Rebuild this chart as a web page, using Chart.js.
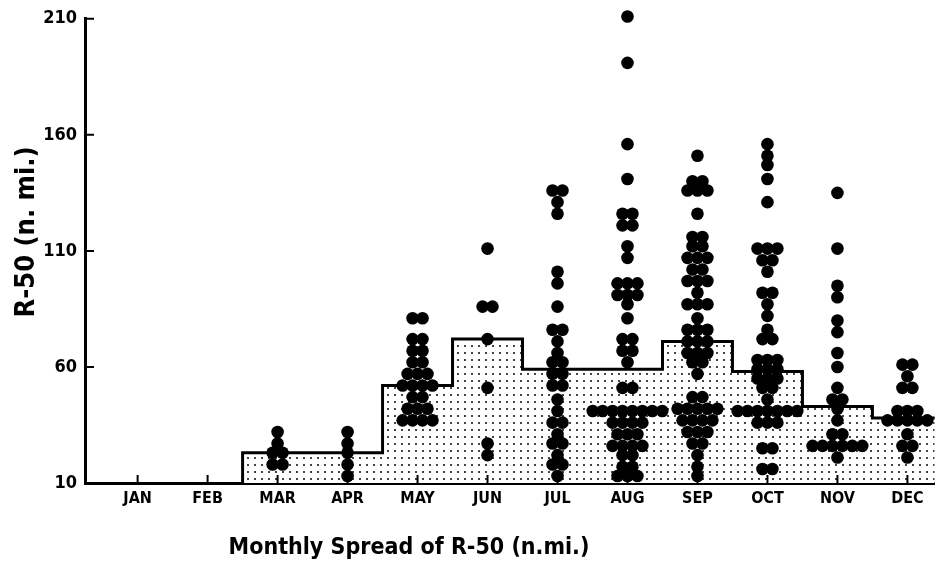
<!DOCTYPE html>
<html>
<head>
  <title>Monthly Spread of R-50</title>
  <script src="https://cdn.jsdelivr.net/npm/chart.js"></script>
  <style>
    body { margin: 0; background: #fff; }
  </style>
</head>
<body>
  <canvas id="chart" width="941" height="565"></canvas>

  <script>
    var months = ['JAN', 'FEB', 'MAR', 'APR', 'MAY', 'JUN', 'JUL', 'AUG', 'SEP', 'OCT', 'NOV', 'DEC'];
    var yTicks = [10, 60, 110, 160, 210];

    // monthly mean R-50 (stepped, shaded outline); null = no cases
    var monthlyMean = [null, null, 23, 23, 52, 72, 59, 59, 71, 58, 43, 38];

    // single cases per month as [R-50 value, number of dots at that value]
    var janR50 = [];
    var febR50 = [];
    var marR50 = [[32, 1], [27, 1], [23, 2], [18, 2]];
    var aprR50 = [[32, 1], [27, 1], [23, 1], [18, 1], [13, 1]];
    var mayR50 = [[81, 2], [72, 2], [67, 2], [62, 2], [57, 3], [52, 4], [47, 2], [42, 3], [37, 4]];
    var junR50 = [[111, 1], [86, 2], [72, 1], [51, 1], [27, 1], [22, 1]];
    var julR50 = [[136, 2], [131, 1], [126, 1], [101, 1], [96, 1], [86, 1], [76, 2], [71, 1], [66, 1],
                  [62, 2], [57, 2], [52, 2], [46, 1], [41, 1], [36, 2], [31, 1], [27, 2], [22, 1], [18, 2], [13, 1]];
    var augR50 = [[211, 1], [191, 1], [156, 1], [141, 1], [126, 2], [121, 2], [112, 1], [107, 1], [96, 3],
                  [91, 3], [87, 1], [81, 1], [72, 2], [67, 2], [62, 1], [51, 2], [41, 8], [36, 4], [31, 3],
                  [26, 4], [22, 2], [17, 2], [13, 3]];
    var sepR50 = [[151, 1], [140, 2], [136, 3], [126, 1], [116, 2], [112, 2], [107, 3], [102, 2], [97, 3],
                  [92, 1], [87, 3], [81, 1], [76, 3], [71, 3], [66, 3], [62, 2], [57, 1], [47, 2], [42, 5],
                  [37, 4], [32, 3], [27, 2], [22, 1], [17, 1], [13, 1]];
    var octR50 = [[156, 1], [151, 1], [147, 1], [141, 1], [131, 1], [111, 3], [106, 2], [101, 1], [92, 2],
                  [87, 1], [82, 1], [76, 1], [72, 2], [63, 3], [59, 3], [55, 3], [51, 2], [46, 1], [41, 7],
                  [36, 3], [25, 2], [16, 2]];
    var novR50 = [[135, 1], [111, 1], [95, 1], [90, 1], [80, 1], [75, 1], [66, 1], [60, 1], [51, 1], [46, 2],
                  [42, 1], [37, 1], [31, 2], [26, 6], [21, 1]];
    var decR50 = [[61, 2], [56, 1], [51, 2], [41, 3], [37, 5], [31, 1], [26, 2], [21, 1]];

    var perMonth = [janR50, febR50, marR50, aprR50, mayR50, junR50, julR50, augR50, sepR50, octR50, novR50, decR50];

    // spread equal values side by side around the month centre
    var dotGap = 0.142;
    var dots = [];
    perMonth.forEach(function (rows, i) {
      rows.forEach(function (row) {
        for (var k = 0; k < row[1]; k++) {
          dots.push({ x: i + 1 + (k - (row[1] - 1) / 2) * dotGap, y: row[0] });
        }
      });
    });

    // step outline: each mean spans its whole month
    var steps = [];
    monthlyMean.forEach(function (m, i) {
      if (m === null) return;
      if (steps.length === 0) steps.push({ x: i + 0.5, y: yTicks[0] });
      steps.push({ x: i + 0.5, y: m }, { x: i + 1.5, y: m });
    });

    // stipple fill
    var tile = document.createElement('canvas');
    tile.width = 7;
    tile.height = 7;
    var tctx = tile.getContext('2d');
    tctx.fillStyle = '#fff';
    tctx.fillRect(0, 0, 7, 7);
    tctx.fillStyle = '#444';
    tctx.fillRect(2, 2, 2, 2);

    var ctx = document.getElementById('chart').getContext('2d');
    var stipple = ctx.createPattern(tile, 'repeat');

    var decorations = {
      id: 'decorations',
      afterDraw: function (chart) {
        var c = chart.ctx;
        var xs = chart.scales.x;
        var ys = chart.scales.y;
        c.save();
        c.strokeStyle = '#000';
        c.lineWidth = 2;
        c.beginPath();
        yTicks.forEach(function (v) {
          var py = ys.getPixelForValue(v);
          c.moveTo(xs.left, py);
          c.lineTo(xs.left + 9, py);
        });
        months.forEach(function (m, i) {
          var px = xs.getPixelForValue(i + 1);
          c.moveTo(px, ys.bottom);
          c.lineTo(px, ys.bottom - 8);
        });
        c.stroke();

        c.fillStyle = '#000';
        c.textAlign = 'center';
        c.textBaseline = 'middle';
        c.font = 'bold 23px "DejaVu Sans Condensed", "DejaVu Sans"';
        c.fillText('Monthly Spread of R-50 (n.mi.)', 409, 548);

        c.translate(27, 232);
        c.rotate(-Math.PI / 2);
        c.font = 'bold 27px "DejaVu Sans Condensed", "DejaVu Sans"';
        c.fillText('R-50 (n. mi.)', 0, 0);
        c.restore();
      }
    };

    var chart = new Chart(ctx, {
      type: 'scatter',
      data: {
        datasets: [
          {
            label: 'R-50',
            data: dots,
            backgroundColor: '#000',
            borderWidth: 0,
            pointRadius: 6.3,
            clip: false,
            order: 1
          },
          {
            type: 'line',
            label: 'Monthly mean',
            data: steps,
            borderColor: '#000',
            borderWidth: 3,
            backgroundColor: stipple,
            fill: { value: yTicks[0] },
            pointRadius: 0,
            tension: 0,
            order: 2
          }
        ]
      },
      plugins: [decorations],
      options: {
        responsive: false,
        animation: false,
        layout: { padding: { top: 18, right: 0, bottom: 0, left: 0 } },
        plugins: {
          legend: { display: false },
          tooltip: { enabled: false }
        },
        scales: {
          x: {
            type: 'linear',
            min: 0.248,
            max: 12.39,
            afterFit: function (s) { s.height = 82; },
            afterBuildTicks: function (s) {
              s.ticks = months.map(function (m, i) { return { value: i + 1 }; });
            },
            ticks: {
              padding: 6,
              color: '#000',
              font: { family: '"DejaVu Sans Condensed", "DejaVu Sans"', size: 16, weight: 'bold' },
              callback: function (v) { return months[v - 1]; }
            },
            grid: { display: false, drawTicks: false },
            border: { display: true, color: '#000', width: 3 }
          },
          y: {
            min: 10,
            max: 210,
            afterFit: function (s) { s.width = 85; },
            afterBuildTicks: function (s) {
              s.ticks = yTicks.map(function (v) { return { value: v }; });
            },
            ticks: {
              padding: 8,
              color: '#000',
              font: { family: '"DejaVu Sans Condensed", "DejaVu Sans"', size: 18, weight: 'bold' }
            },
            grid: { display: false, drawTicks: false },
            border: { display: true, color: '#000', width: 3 }
          }
        }
      }
    });
  </script>
</body>
</html>
